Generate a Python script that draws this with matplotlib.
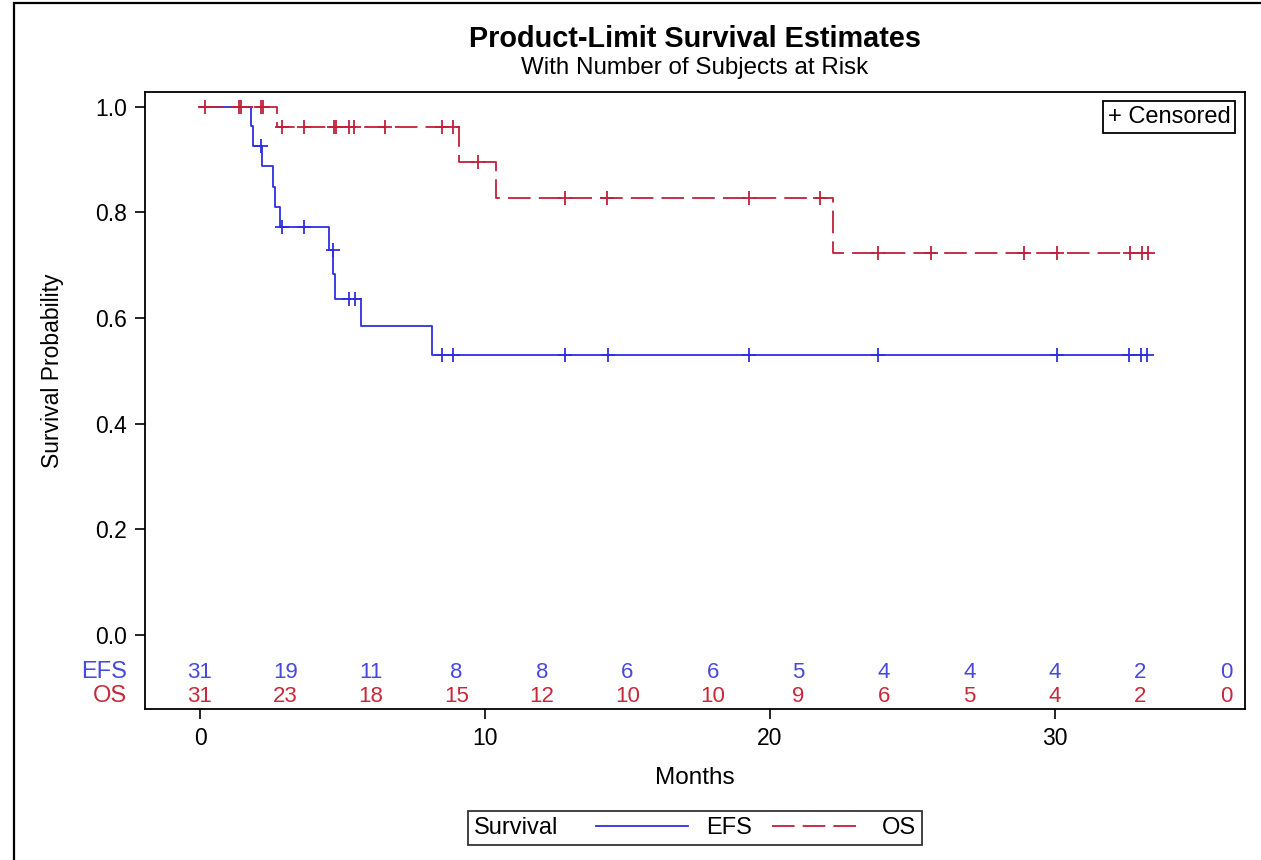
import numpy as np
import matplotlib
matplotlib.use("Agg")
import matplotlib.pyplot as plt
from matplotlib.patches import Rectangle
from matplotlib.offsetbox import HPacker

plt.rcParams['font.family'] = ['Liberation Sans', 'DejaVu Sans']

# Kaplan-Meier step data
efs_t = [0, 1.78, 1.85, 2.16, 2.55, 2.63, 2.81, 4.54, 4.68, 4.74, 5.65, 8.13]
efs_s = [1.0, 0.963, 0.925, 0.888, 0.849, 0.810, 0.773, 0.728, 0.683, 0.636, 0.585, 0.530]
efs_cens = [2.14, 2.87, 3.65, 4.66, 5.24, 5.44, 8.48, 8.87, 12.80, 14.32,
            19.27, 23.80, 30.07, 32.61, 33.02, 33.22]

os_t = [0, 2.69, 9.09, 10.39, 22.22]
os_s = [1.0, 0.961, 0.896, 0.827, 0.723]
os_cens = [0.18, 1.38, 1.44, 2.14, 2.20, 2.89, 3.65, 4.70, 4.77, 5.24, 5.40,
           6.49, 8.48, 8.89, 9.77, 12.81, 14.29, 19.27, 21.75, 23.80, 25.66,
           28.91, 30.06, 32.63, 33.04, 33.25]

# number at risk table
risk_times = [0, 3, 6, 9, 12, 15, 18, 21, 24, 27, 30, 33, 36]
efs_risk = [31, 19, 11, 8, 8, 6, 6, 5, 4, 4, 4, 2, 0]
os_risk = [31, 23, 18, 15, 12, 10, 10, 9, 6, 5, 4, 2, 0]

blue = '#2f2fe0'
red = '#c0203a'
blue_txt = '#4848e0'
red_txt = '#c8283c'


def level_at(times, surv, t):
    i = np.searchsorted(times, t, side='right') - 1
    return np.array(surv)[i]


fig = plt.figure(figsize=(12.61, 8.60), dpi=100)
ax = fig.add_axes([0.115, 0.1756, 0.8723, 0.7174])

# outer graph border
fig.patches.append(Rectangle((14 / 1261, -0.1), 1.2, 0.9965 + 0.1,
                             transform=fig.transFigure, fill=False,
                             edgecolor='black', linewidth=1.6))

# curves (extend to last censored time)
tx = efs_t + [max(efs_cens)]
sy = efs_s + [efs_s[-1]]
h_efs, = ax.step(tx, sy, where='post', color=blue, lw=1.3)
tx = os_t + [max(os_cens)]
sy = os_s + [os_s[-1]]
h_os, = ax.step(tx, sy, where='post', color=red, lw=1.3,
                dashes=(12.5, 4.5))

# censor marks
ax.plot(efs_cens, level_at(efs_t, efs_s, efs_cens), ls='none', marker='+',
        ms=10, mew=1.3, color=blue)
ax.plot(os_cens, level_at(os_t, os_s, os_cens), ls='none', marker='+',
        ms=10, mew=1.3, color=red)

ax.set_xlim(-1.93, 36.67)
ax.set_ylim(-0.140, 1.028)
ax.set_xticks([0, 10, 20, 30])
ax.set_yticks([0.0, 0.2, 0.4, 0.6, 0.8, 1.0])
ax.set_yticklabels(["%.1f" % v for v in [0.0, 0.2, 0.4, 0.6, 0.8, 1.0]])
ax.tick_params(direction='out', length=7, width=1.2, labelsize=16.5,
               colors='black', pad=6)
for sp in ax.spines.values():
    sp.set_linewidth(1.3)

ax.set_xlabel("Months", fontsize=17.5)
ax.xaxis.set_label_coords(0.5, -0.094)
ax.set_ylabel("Survival Probability", fontsize=16.5)
ax.yaxis.set_label_coords(-0.074, 0.549)

# at-risk rows inside the axes
for t, e, o in zip(risk_times, efs_risk, os_risk):
    ax.text(t, -0.070, str(e), color=blue_txt, fontsize=16,
            ha='center', va='center')
    ax.text(t, -0.1155, str(o), color=red_txt, fontsize=16,
            ha='center', va='center')
trans = ax.get_yaxis_transform()
ax.text(-0.016, -0.070, "EFS", color=blue_txt, fontsize=17, ha='right',
        va='center', transform=trans)
ax.text(-0.016, -0.1155, "OS", color=red_txt, fontsize=17, ha='right',
        va='center', transform=trans)

# censored box
ax.text(0.987, 0.977, "+ Censored", transform=ax.transAxes, ha='right',
        va='top', fontsize=17,
        bbox=dict(boxstyle='square,pad=0.2', fc='white', ec='black', lw=1.3))

fig.text(0.551, 1 - 39 / 860, "Product-Limit Survival Estimates",
         fontsize=20.8, fontweight='bold', ha='center', va='center')
fig.text(0.551, 1 - 68 / 860, "With Number of Subjects at Risk",
         fontsize=17.4, ha='center', va='center')

# bottom legend with the title on the left
fs = 17
leg = fig.legend(handles=[h_efs, h_os], labels=['EFS', 'OS'],
                 title='Survival', ncol=2, loc='center',
                 bbox_to_anchor=(0.551, 1 - 828 / 860), frameon=True,
                 fancybox=False, edgecolor='black', handlelength=3.9,
                 columnspacing=0.85, handletextpad=0.75, fontsize=fs,
                 title_fontsize=fs, borderpad=0.2)
leg.get_frame().set_linewidth(1.3)
leg._legend_box = HPacker(pad=0.25 * fs, sep=1.6 * fs, align='center',
                          children=[leg._legend_title_box,
                                    leg._legend_handle_box])
leg._legend_box.set_figure(fig)
leg._legend_box.set_offset(leg._findoffset)

fig.savefig("out.png", dpi=100)
